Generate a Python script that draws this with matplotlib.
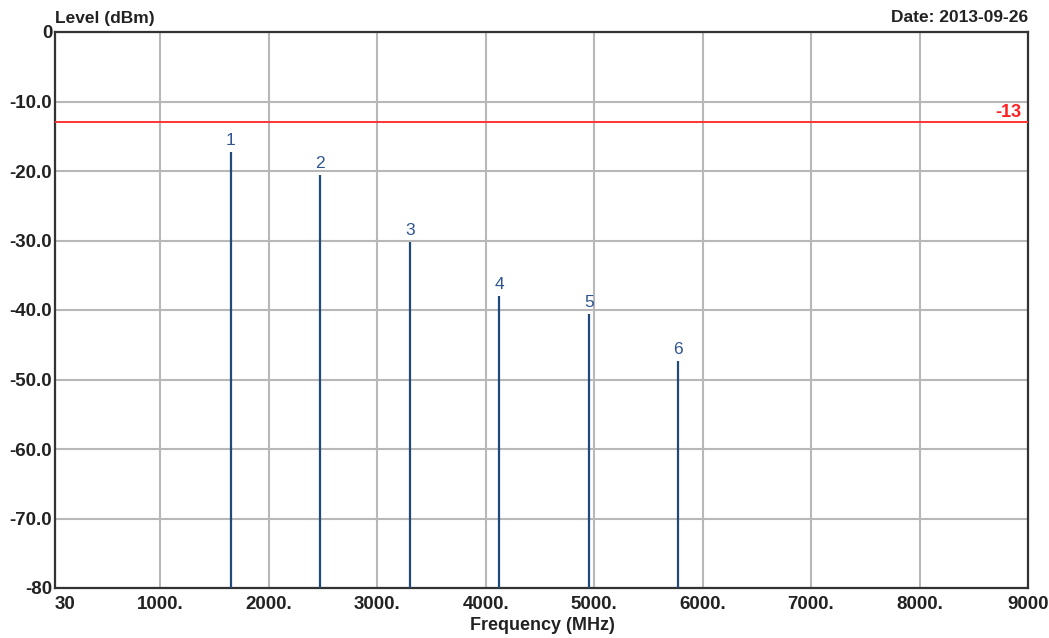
import matplotlib
matplotlib.use("Agg")
import matplotlib.pyplot as plt

freqs = [1650, 2475, 3300, 4125, 4950, 5775]
levels = [-17.3, -20.6, -30.2, -38.0, -40.6, -47.3]
labels = ["1", "2", "3", "4", "5", "6"]
limit = -13
xticks = [30, 1000, 2000, 3000, 4000, 5000, 6000, 7000, 8000, 9000]
xticklabels = ["30", "1000.", "2000.", "3000.", "4000.", "5000.", "6000.", "7000.", "8000.", "9000"]
yticks = [0, -10, -20, -30, -40, -50, -60, -70, -80]
yticklabels = ["0", "-10.0", "-20.0", "-30.0", "-40.0", "-50.0", "-60.0", "-70.0", "-80"]

plt.rcParams['font.family'] = ['Liberation Sans', 'DejaVu Sans']

fig = plt.figure(figsize=(10.49, 6.38), dpi=100)
ax = fig.add_axes([55/1049, 1-588/638, (1028-55)/1049, (588-32)/638])
ax.set_xlim(30, 9000)
ax.set_ylim(-80, 0)

ax.set_xticks(xticks)
ax.set_xticklabels(xticklabels, fontsize=13.5, fontweight='bold', color='#222222')
ax.set_yticks(yticks)
ax.set_yticklabels(yticklabels, fontsize=13.5, fontweight='bold', color='#222222')
ax.tick_params(axis='x', length=0, pad=6)
ax.tick_params(axis='y', length=0, pad=2)
xl = ax.get_xticklabels()
xl[0].set_horizontalalignment('left')
xl[-1].set_horizontalalignment('center')
ax.grid(True, color='#b8b8b8', linewidth=1.5)
ax.set_axisbelow(True)
for s in ax.spines.values():
    s.set_color('#333333')
    s.set_linewidth(1.6)

ax.vlines(freqs, -80, levels, color='#1f4a7a', linewidth=1.6, zorder=3)
for f, l, t in zip(freqs, levels, labels):
    ax.annotate(t, (f, l), xytext=(0, 3), textcoords='offset points',
                ha='center', va='bottom', fontsize=12.5, color='#2f5590')

ax.axhline(limit, color='#ff3333', linewidth=1.4, zorder=3)
ax.annotate(str(limit), (1, limit), xycoords=('axes fraction', 'data'),
            xytext=(-5, 1), textcoords='offset points', ha='right', va='bottom',
            fontsize=13, fontweight='bold', color='#ff2020')

fig.text(55/1049, 1-18/638, "Level (dBm)", fontsize=12.5, fontweight='bold',
         color='#222222', ha='left', va='center')
fig.text(1028/1049, 1-17/638, "Date: 2013-09-26", fontsize=12.5, fontweight='bold',
         color='#222222', ha='right', va='center')
fig.text(542/1049, 1-626/638, "Frequency (MHz)", fontsize=13, fontweight='bold',
         color='#222222', ha='center', va='center')

fig.savefig("out.png", dpi=100, facecolor='white')
